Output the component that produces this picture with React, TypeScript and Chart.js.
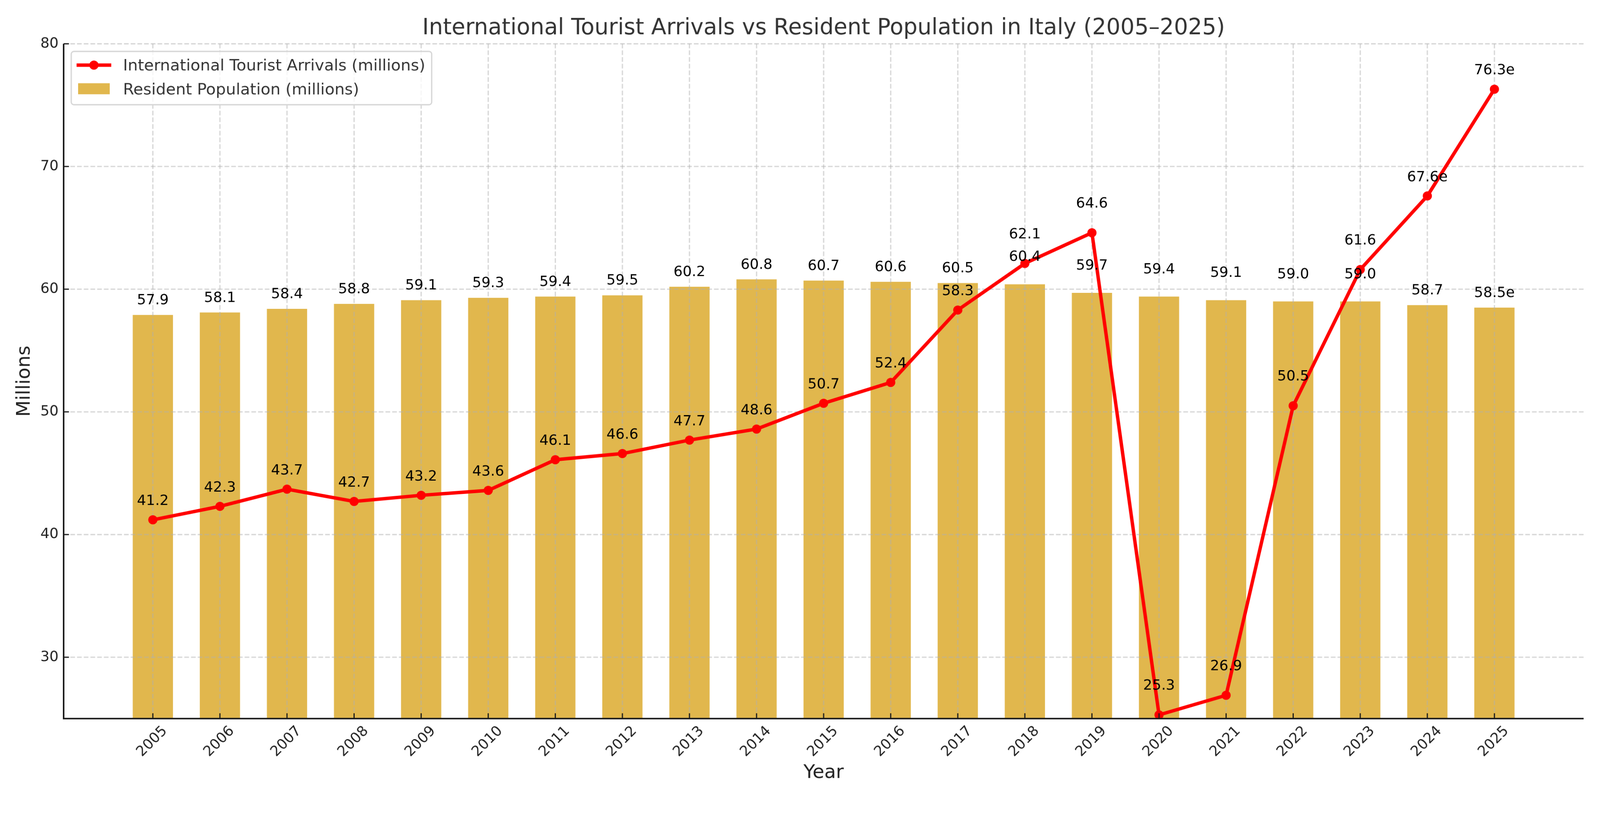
import { useEffect, useRef } from "react";
import { Chart, registerables } from "chart.js";

Chart.register(...registerables);

// ---- data ----
const years = [
  "2005", "2006", "2007", "2008", "2009", "2010", "2011", "2012", "2013", "2014",
  "2015", "2016", "2017", "2018", "2019", "2020", "2021", "2022", "2023", "2024", "2025",
];
const touristArrivals = [
  41.2, 42.3, 43.7, 42.7, 43.2, 43.6, 46.1, 46.6, 47.7, 48.6,
  50.7, 52.4, 58.3, 62.1, 64.6, 25.3, 26.9, 50.5, 61.6, 67.6, 76.3,
];
const touristEstimated = [
  false, false, false, false, false, false, false, false, false, false,
  false, false, false, false, false, false, false, false, false, true, true,
];
const residentPopulation = [
  57.9, 58.1, 58.4, 58.8, 59.1, 59.3, 59.4, 59.5, 60.2, 60.8,
  60.7, 60.6, 60.5, 60.4, 59.7, 59.4, 59.1, 59.0, 59.0, 58.7, 58.5,
];
const populationEstimated = [
  false, false, false, false, false, false, false, false, false, false,
  false, false, false, false, false, false, false, false, false, false, true,
];
// years whose value labels sit higher above the marks
const liftedLabelYears = ["2018", "2019", "2020", "2021", "2022", "2023"];
const yTicks = [30, 40, 50, 60, 70, 80];
const Y_MIN = 25;
const Y_MAX = 80;

const TITLE = "International Tourist Arrivals vs Resident Population in Italy (2005–2025)";
const FONT = "'DejaVu Sans', sans-serif";
const BAR_COLOR = "rgba(218,165,32,0.8)";
const LINE_COLOR = "#ff0000";
const LINE_WIDTH = 9;
const BAR_WIDTH = 0.6;
const X_MARGIN = 0.05 * (years.length - 1 + BAR_WIDTH);

// canvas drawing size; shown across the full viewport width, same aspect
const W = 4200;
const H = 2100;

const fmt = (v: number, est: boolean) => v.toFixed(1) + (est ? "e" : "");

// grid under the line but over the bars, then ticks/spines, labels, legend, title
const overlay = {
  id: "overlay",
  beforeDatasetDraw(chart: any, args: any) {
    if (args.meta.type !== "line") return;
    const { ctx, chartArea: a, scales } = chart;
    const { x, y } = scales;
    ctx.save();
    ctx.strokeStyle = "rgba(176,176,176,0.5)";
    ctx.lineWidth = 3.3;
    ctx.setLineDash([12.3, 5.3]);
    x.ticks.forEach((t: any) => {
      const px = x.getPixelForValue(t.value);
      ctx.beginPath();
      ctx.moveTo(px, a.bottom);
      ctx.lineTo(px, a.top);
      ctx.stroke();
    });
    y.ticks.forEach((t: any) => {
      const py = y.getPixelForValue(t.value);
      ctx.beginPath();
      ctx.moveTo(a.left, py);
      ctx.lineTo(a.right, py);
      ctx.stroke();
    });
    ctx.restore();
  },
  afterDatasetsDraw(chart: any) {
    const { ctx, chartArea: a, scales } = chart;
    const { x, y } = scales;
    ctx.save();

    // spines
    ctx.strokeStyle = "#1a1a1a";
    ctx.lineWidth = 4;
    ctx.beginPath();
    ctx.moveTo(a.left, a.top);
    ctx.lineTo(a.left, a.bottom);
    ctx.lineTo(a.right, a.bottom);
    ctx.stroke();

    // inward tick marks
    ctx.lineWidth = 3;
    x.ticks.forEach((t: any) => {
      const px = x.getPixelForValue(t.value);
      ctx.beginPath();
      ctx.moveTo(px, a.bottom);
      ctx.lineTo(px, a.bottom - 14);
      ctx.stroke();
    });
    y.ticks.forEach((t: any) => {
      const py = y.getPixelForValue(t.value);
      ctx.beginPath();
      ctx.moveTo(a.left, py);
      ctx.lineTo(a.left + 14, py);
      ctx.stroke();
    });

    // value labels
    ctx.fillStyle = "#000";
    ctx.font = `37.5px ${FONT}`;
    ctx.textAlign = "center";
    ctx.textBaseline = "alphabetic";
    residentPopulation.forEach((v, i) => {
      const lift = liftedLabelYears.includes(years[i]) ? 61 : 28;
      ctx.fillText(fmt(v, populationEstimated[i]), x.getPixelForValue(i), y.getPixelForValue(v) - lift);
    });
    touristArrivals.forEach((v, i) => {
      const lift = liftedLabelYears.includes(years[i]) ? 66 : 39;
      ctx.fillText(fmt(v, touristEstimated[i]), x.getPixelForValue(i), y.getPixelForValue(v) - lift);
    });

    // legend
    const labels = chart.data.datasets.map((d: any) => d.label);
    ctx.font = `41.7px ${FONT}`;
    const textX = a.left + 156;
    const textW = Math.max(...labels.map((l: string) => ctx.measureText(l).width));
    const boxL = a.left + 20;
    const boxT = a.top + 20;
    const boxW = textX + textW + 17 - boxL;
    const boxH = 140;
    ctx.beginPath();
    ctx.roundRect(boxL, boxT, boxW, boxH, 7);
    ctx.fillStyle = "rgba(255,255,255,0.8)";
    ctx.fill();
    ctx.strokeStyle = "#d6d6d6";
    ctx.lineWidth = 3.3;
    ctx.stroke();

    const row1 = boxT + 36;
    const row2 = boxT + 98;
    ctx.strokeStyle = LINE_COLOR;
    ctx.lineWidth = LINE_WIDTH;
    ctx.beginPath();
    ctx.moveTo(a.left + 34, row1);
    ctx.lineTo(a.left + 125, row1);
    ctx.stroke();
    ctx.fillStyle = LINE_COLOR;
    ctx.beginPath();
    ctx.arc(a.left + 79.5, row1, 12, 0, Math.PI * 2);
    ctx.fill();
    ctx.fillStyle = BAR_COLOR;
    ctx.fillRect(a.left + 38, row2 - 14.5, 83, 29);

    ctx.fillStyle = "#333";
    ctx.textAlign = "left";
    ctx.fillText(labels[0], textX, row1 + 14);
    ctx.fillText(labels[1], textX, row2 + 15);

    // title
    ctx.font = `58.3px ${FONT}`;
    ctx.textAlign = "center";
    ctx.fillStyle = "#333";
    ctx.fillText(TITLE, (a.left + a.right) / 2, a.top - 25);

    ctx.restore();
  },
};

export default function App() {
  const canvasRef = useRef<HTMLCanvasElement | null>(null);
  const chartRef = useRef<Chart | null>(null);

  useEffect(() => {
    if (!canvasRef.current) return;
    if (chartRef.current) chartRef.current.destroy();

    chartRef.current = new Chart(canvasRef.current, {
      type: "bar",
      data: {
        datasets: [
          {
            type: "line",
            label: "International Tourist Arrivals (millions)",
            data: touristArrivals.map((v, i) => ({ x: i, y: v })),
            borderColor: LINE_COLOR,
            backgroundColor: LINE_COLOR,
            borderWidth: LINE_WIDTH,
            pointRadius: 12,
            pointHoverRadius: 12,
            pointBorderWidth: 0,
            pointBackgroundColor: LINE_COLOR,
            tension: 0,
            order: 0,
          },
          {
            type: "bar",
            label: "Resident Population (millions)",
            data: residentPopulation.map((v, i) => ({ x: i, y: v })),
            backgroundColor: BAR_COLOR,
            borderWidth: 0,
            barPercentage: BAR_WIDTH,
            categoryPercentage: 1,
            order: 1,
          },
        ],
      } as any,
      options: {
        animation: false,
        responsive: false,
        devicePixelRatio: 1,
        events: [],
        layout: { padding: { top: 115, right: 43, left: 0, bottom: 0 } },
        plugins: {
          legend: { display: false },
          title: { display: false },
          tooltip: { enabled: false },
        },
        scales: {
          x: {
            type: "linear",
            min: -BAR_WIDTH / 2 - X_MARGIN,
            max: years.length - 1 + BAR_WIDTH / 2 + X_MARGIN,
            offset: false,
            afterBuildTicks: (s: any) => {
              s.ticks = years.map((_, i) => ({ value: i }));
            },
            afterFit: (s: any) => {
              s.height = 213;
            },
            grid: { display: false, drawTicks: false, offset: false },
            border: { display: false },
            ticks: {
              autoSkip: false,
              minRotation: 45,
              maxRotation: 45,
              labelOffset: 32,
              padding: 11,
              color: "#222",
              font: { family: FONT, size: 37.5 },
              callback: (v: any) => years[Math.round(Number(v))] ?? "",
            },
            title: {
              display: true,
              text: "Year",
              color: "#222",
              font: { family: FONT, size: 50 },
              padding: { top: 0, bottom: 40 },
            },
          },
          y: {
            min: Y_MIN,
            max: Y_MAX,
            afterBuildTicks: (s: any) => {
              s.ticks = yTicks.map((v) => ({ value: v }));
            },
            afterFit: (s: any) => {
              s.width = 167;
            },
            grid: { display: false, drawTicks: false },
            border: { display: false },
            ticks: {
              padding: 13.4,
              color: "#222",
              font: { family: FONT, size: 37.5 },
              callback: (v: any) => String(v),
            },
            title: {
              display: true,
              text: "Millions",
              color: "#222",
              font: { family: FONT, size: 50 },
              padding: { top: 35, bottom: 0 },
            },
          },
        },
      } as any,
      plugins: [overlay],
    });

    return () => {
      if (chartRef.current) {
        chartRef.current.destroy();
        chartRef.current = null;
      }
    };
  }, []);

  const vw = typeof window !== "undefined" ? window.innerWidth : W;
  const vh = (vw * H) / W;

  return (
    <div style={{ position: "fixed", left: 0, top: 0, width: vw, height: vh, background: "#fff" }}>
      <canvas ref={canvasRef} width={W} height={H} style={{ width: vw, height: vh }}></canvas>
    </div>
  );
}
